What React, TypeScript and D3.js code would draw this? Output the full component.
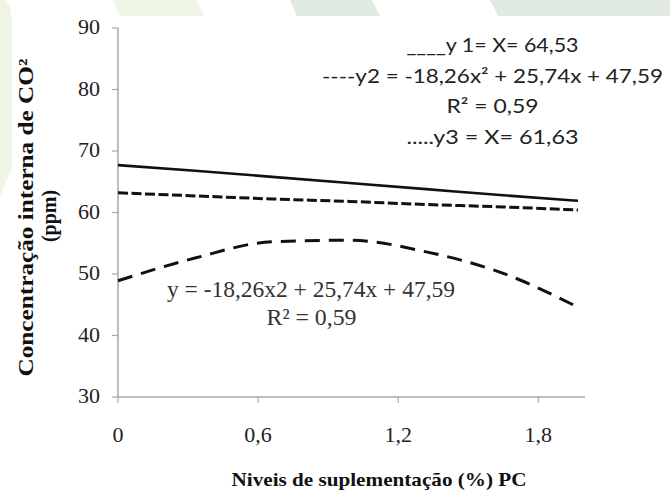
import * as d3 from 'd3';

// values
const xLevels = [0, 0.33, 0.66, 0.99, 1.32, 1.65, 1.97];
const y1Values = [67.7, 66.8, 65.8, 64.8, 63.8, 62.8, 61.9];
const y2Values = [48.9, 52.6, 55.25, 55.5, 53.6, 50.1, 44.6];
const y3Values = [63.2, 62.7, 62.2, 61.8, 61.3, 60.9, 60.4];
const xTicks = [0, 0.6, 1.2, 1.8];
const yTicks = [30, 40, 50, 60, 70, 80, 90];
const legendLines = [
  '____y 1= X= 64,53',
  '----y2 = -18,26x² + 25,74x + 47,59',
  'R² = 0,59',
  '.....y3 =  X= 61,63',
];
const legendWidths = [172, 341, 92, 172];
const fitLabel = 'y = -18,26x2 + 25,74x + 47,59';
const fitR2 = 'R² = 0,59';

const W = 670;
const H = 495;
const serif = 'Liberation Serif, DejaVu Serif, serif';
const sans = 'Lato, Open Sans, sans-serif';

const fmt = (d: number) => String(d).replace('.', ',');

export default function App() {
  const x = d3.scaleLinear().domain([0, 2.0]).range([118, 585]);
  const y = d3.scaleLinear().domain([30, 90]).range([397, 28]);

  const line = d3
    .line<number>()
    .x((_, i) => x(xLevels[i]))
    .y((d) => y(d))
    .curve(d3.curveMonotoneX);

  return (
    <div style={{ position: 'absolute', left: 0, top: 0 }}>
      <svg width={W} height={H} style={{ display: 'block', background: '#fff' }}>
        {/* faint watermark shapes of the source page */}
        <path d="M0,0 L6,0 Q12,8 12,24 L12,168 L0,196 Z" fill="#eef5e4" />
        <path d="M113,0 L197,0 L204,16 L120,16 Z" fill="#eff6e6" />
        <path d="M290,0 L372,0 L380,16 L297,16 Z" fill="#e1eae1" />
        <path d="M490,0 L670,0 L670,16 L498,16 Z" fill="#e1eae1" />

        {/* axes */}
        <line x1={x(0)} x2={x(0)} y1={y(90)} y2={y(30)} stroke="#a8a8a8" strokeWidth={1.5} />
        <line x1={x(0)} x2={585} y1={y(30)} y2={y(30)} stroke="#a8a8a8" strokeWidth={1.5} />
        {yTicks.map((t) => (
          <g key={t}>
            <line x1={x(0) - 6} x2={x(0)} y1={y(t)} y2={y(t)} stroke="#a8a8a8" strokeWidth={1.2} />
            <text x={100} y={y(t) + 6} textAnchor="end" fontFamily={serif} fontSize={22} fill="#222">
              {t}
            </text>
          </g>
        ))}
        {xTicks.map((t) => (
          <g key={t}>
            <line x1={x(t)} x2={x(t)} y1={y(30)} y2={y(30) + 6} stroke="#a8a8a8" strokeWidth={1.2} />
            <text x={x(t)} y={442} textAnchor="middle" fontFamily={serif} fontSize={22} fill="#222">
              {fmt(t)}
            </text>
          </g>
        ))}

        {/* series */}
        <path d={line(y1Values) ?? ''} fill="none" stroke="#111" strokeWidth={2.6} />
        <path
          d={line(y3Values) ?? ''}
          fill="none"
          stroke="#111"
          strokeWidth={3}
          strokeDasharray="10 3.5"
        />
        <path
          d={line(y2Values) ?? ''}
          fill="none"
          stroke="#111"
          strokeWidth={3}
          strokeDasharray="15 9"
        />

        {/* legend / equations */}
        {legendLines.map((s, i) => (
          <text
            key={i}
            x={492.5}
            y={52 + i * 30.6}
            textAnchor="middle"
            fontFamily={sans}
            fontSize={19.5}
            fill="#222"
            textLength={legendWidths[i]}
            lengthAdjust="spacingAndGlyphs"
          >
            {s}
          </text>
        ))}

        <text x={311} y={297} textAnchor="middle" fontFamily={serif} fontSize={23} fill="#333" textLength={288} lengthAdjust="spacingAndGlyphs">
          {fitLabel}
        </text>
        <text x={311.5} y={325} textAnchor="middle" fontFamily={serif} fontSize={23} fill="#333" textLength={90} lengthAdjust="spacingAndGlyphs">
          {fitR2}
        </text>

        {/* axis titles */}
        <text
          transform="translate(33,217.5) rotate(-90)"
          textAnchor="middle"
          fontFamily={serif}
          fontWeight="bold"
          fontSize={22}
          fill="#111"
          textLength={318}
          lengthAdjust="spacingAndGlyphs"
        >
          Concentração interna de CO²
        </text>
        <text
          transform="translate(56,216) rotate(-90)"
          textAnchor="middle"
          fontFamily={serif}
          fontWeight="bold"
          fontSize={20}
          fill="#111"
        >
          (ppm)
        </text>
        <text
          x={379}
          y={486}
          textAnchor="middle"
          fontFamily={serif}
          fontWeight="bold"
          fontSize={19}
          fill="#111"
          textLength={295}
          lengthAdjust="spacingAndGlyphs"
        >
          Niveis de suplementação (%) PC
        </text>
      </svg>
    </div>
  );
}
